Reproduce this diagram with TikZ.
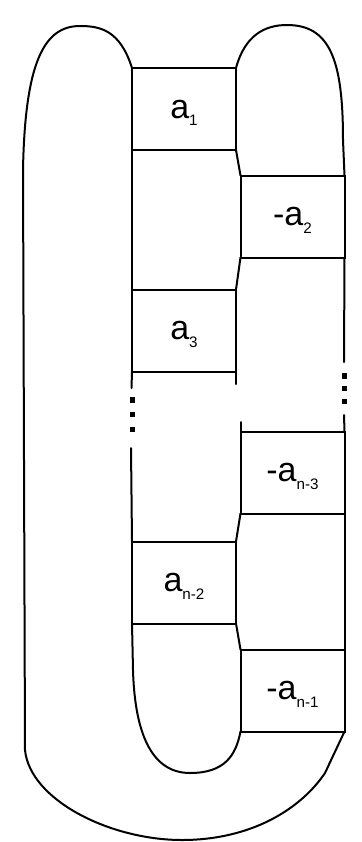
\documentclass[tikz,border=0pt]{standalone}
\usepackage{fontspec}
\setmainfont{Liberation Sans}
\newcommand{\ssub}[1]{\raisebox{-3.9pt}{\fontsize{7.6}{8}\selectfont #1}}

\begin{document}
\begin{tikzpicture}[x=0.5pt, y=-0.5pt,
  box/.style={draw, rectangle, line width=1pt, minimum width=52pt, minimum height=41pt,
    inner sep=0pt, outer sep=0pt, text depth=0pt, font=\fontsize{17}{19}\selectfont},
  strand/.style={line width=1pt, line join=round, line cap=round}]
  \useasboundingbox (0,0) rectangle (361,842);
  % twist boxes, left column
  \node[box] (b1) at (184,109) {a\ssub{1}};
  \node[box] (b3) at (184,330.5) {a\ssub{3}};
  \node[box] (b5) at (184,582.5) {a\ssub{n-2}};
  % twist boxes, right column
  \node[box] (b2) at (292.5,216.5) {-a\ssub{2}};
  \node[box] (b4) at (292.5,472.5) {-a\ssub{n-3}};
  \node[box] (b6) at (292.5,690.5) {-a\ssub{n-1}};
  % loose ends beside the dots
  \coordinate (r1) at (344,362);
  \coordinate (r2) at (344,415);
  \coordinate (l1) at (131.5,388);
  \coordinate (l2) at (131,448);
  \coordinate (m1) at (236,384);
  \coordinate (m2) at (240.5,422);
  % outer band
  \draw[strand] (b1.north west) .. controls (120,30) and (100,26) .. (80,26)
    .. controls (45,26) and (25,60) .. (23,170) -- (25,750)
    .. controls (30,800) and (110,840) .. (182,840)
    .. controls (250,840) and (300,810) .. (325,773) -- (b6.south east);
  % right lobe
  \draw[strand] (b1.north east) .. controls (245,35) and (265,25) .. (287,25)
    .. controls (330,25) and (343,60) .. (343,140) -- (b2.north east);
  % inner U
  \draw[strand] (b5.south west) -- (133,670) .. controls (135,740) and (155,773) .. (190,773)
    .. controls (225,773) and (236,755) .. (b6.south west);
  % strands between the boxes
  \draw[strand] (b1.south east) -- (b2.north west);
  \draw[strand] (b2.south west) -- (b3.north east);
  \draw[strand] (b1.south west) -- (b3.north west);
  \draw[strand] (b2.south east) -- (r1);
  \draw[strand] (r2) -- (b4.north east);
  \draw[strand] (b3.south west) -- (l1);
  \draw[strand] (l2) -- (b5.north west);
  \draw[strand] (b3.south east) -- (m1);
  \draw[strand] (m2) -- (b4.north west);
  \draw[strand] (b4.south west) -- (b5.north east);
  \draw[strand] (b4.south east) -- (b6.north east);
  \draw[strand] (b5.south east) -- (b6.north west);
  % dots
  \foreach \y in {376,388.5,401.5}
    \fill (341.8,\y-2.6) rectangle (347,\y+2.6);
  \foreach \y in {400,414.5,429.5}
    \fill (129.6,\y-2.6) rectangle (134.8,\y+2.6);
\end{tikzpicture}
\end{document}
